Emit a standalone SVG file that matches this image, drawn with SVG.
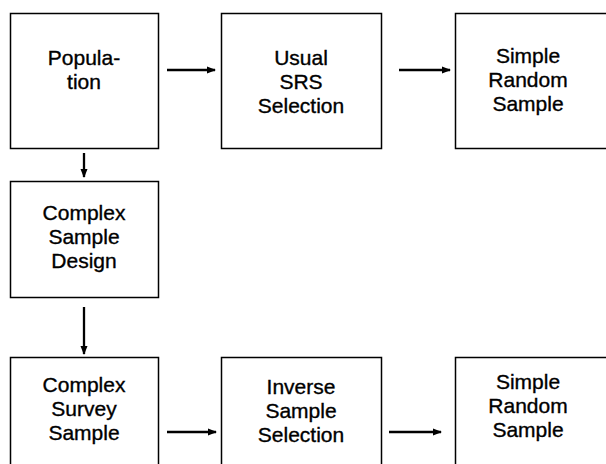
<svg xmlns="http://www.w3.org/2000/svg" width="606" height="464" viewBox="0 0 606 464">
<defs>
<marker id="ah" markerWidth="9" markerHeight="8" refX="8" refY="4" orient="auto" markerUnits="userSpaceOnUse">
<path d="M0,0.5 L9,4 L0,7.5 Z" fill="#000"/>
</marker>
</defs>
<style>
.box{fill:#fff;stroke:#000;stroke-width:1.5}
.t{font-family:"Liberation Sans",Arial,sans-serif;font-size:21px;fill:#000;stroke:#000;stroke-width:0.35;text-anchor:middle}
.c{stroke:#000;stroke-width:2.3;fill:none}
</style>
<rect width="606" height="464" fill="#fff"/>
<g id="population"><rect class="box" x="10.5" y="13.5" width="148" height="135"/>
<text class="t" x="84" y="65">Popula-</text><text class="t" x="84" y="89">tion</text></g>
<g id="usual-srs"><rect class="box" x="221.5" y="13.5" width="160" height="135"/>
<text class="t" x="301" y="65">Usual</text><text class="t" x="301" y="89">SRS</text><text class="t" x="301" y="113">Selection</text></g>
<g id="srs-top"><rect class="box" x="455.5" y="13.5" width="154" height="135"/>
<text class="t" x="528" y="63">Simple</text><text class="t" x="528" y="87">Random</text><text class="t" x="528" y="111">Sample</text></g>
<g id="complex-design"><rect class="box" x="10.5" y="181.5" width="148" height="116"/>
<text class="t" x="84" y="220">Complex</text><text class="t" x="84" y="244">Sample</text><text class="t" x="84" y="268">Design</text></g>
<g id="complex-survey"><rect class="box" x="10.5" y="357.5" width="148" height="110"/>
<text class="t" x="84" y="392">Complex</text><text class="t" x="84" y="416">Survey</text><text class="t" x="84" y="440">Sample</text></g>
<g id="inverse"><rect class="box" x="221.5" y="357.5" width="160" height="110"/>
<text class="t" x="301" y="394">Inverse</text><text class="t" x="301" y="418">Sample</text><text class="t" x="301" y="442">Selection</text></g>
<g id="srs-bottom"><rect class="box" x="455.5" y="357.5" width="154" height="110"/>
<text class="t" x="528" y="389">Simple</text><text class="t" x="528" y="413">Random</text><text class="t" x="528" y="437">Sample</text></g>
<g id="connectors">
<line class="c" x1="167" y1="70" x2="215" y2="70" marker-end="url(#ah)"/>
<line class="c" x1="399" y1="70" x2="450" y2="70" marker-end="url(#ah)"/>
<line class="c" x1="84" y1="153" x2="84" y2="177" marker-end="url(#ah)"/>
<line class="c" x1="84" y1="307" x2="84" y2="354" marker-end="url(#ah)"/>
<line class="c" x1="167" y1="432" x2="216" y2="432" marker-end="url(#ah)"/>
<line class="c" x1="389" y1="432" x2="441" y2="432" marker-end="url(#ah)"/>
</g>
</svg>
